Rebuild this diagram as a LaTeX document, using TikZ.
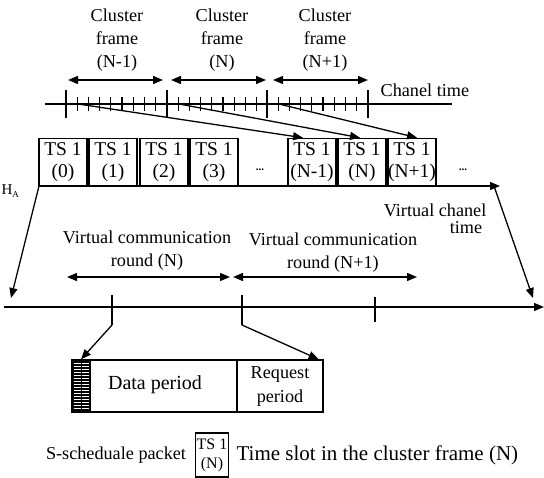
\documentclass[tikz,border=0pt]{standalone}
\usepackage{fontspec}
\setmainfont{Liberation Serif}
\usetikzlibrary{arrows.meta,calc}
\begin{document}
\begin{tikzpicture}[x=1pt,y=-1pt, line width=1.3pt,
  txt/.style={font=\fontsize{18.2}{23}\selectfont, align=center, inner sep=0pt},
  tsbox/.style={draw, line width=1.5pt, minimum width=48pt, minimum height=47pt, inner sep=0pt, font=\fontsize{19.5}{21.5}\selectfont, align=center},
  plainbox/.style={draw, line width=1.3pt, inner sep=0pt, font=\fontsize{18.2}{24}\selectfont, align=center},
  arr/.style={-{Triangle[length=10pt,width=8pt]}},
  darr/.style={{Triangle[length=10pt,width=8pt]}-{Triangle[length=10pt,width=8pt]}}]
\useasboundingbox (0,0) rectangle (544,478);

% cluster frame labels
\node[txt] (cf1) at (117,40) {Cluster\\frame\\(N-1)};
\node[txt] (cf2) at (222,40) {Cluster\\frame\\(N)};
\node[txt] (cf3) at (325,40) {Cluster\\frame\\(N+1)};
\coordinate (a1l) at (68,80); \coordinate (a1r) at (163,80);
\coordinate (a2l) at (171,80); \coordinate (a2r) at (266,80);
\coordinate (a3l) at (273,80); \coordinate (a3r) at (368,80);
\draw[darr] (a1l) -- (a1r);
\draw[darr] (a2l) -- (a2r);
\draw[darr] (a3l) -- (a3r);

% channel time line
\coordinate (c0) at (45,104); \coordinate (c1) at (452,104);
\draw (c0) -- (c1);
\node[txt, anchor=west] (chtime) at (380,90) {Chanel time};
\foreach \bx in {66,167,267,368} \draw (\bx,90) -- (\bx,118);
\foreach \bx in {66,167,267} \foreach \k in {1,...,8} \draw ({\bx+\k*11.2},97) -- ({\bx+\k*11.2},111);

% TS boxes
\node[tsbox] (ts0) at (63,162) {TS 1\\(0)};
\node[tsbox] (ts1) at (113,162) {TS 1\\(1)};
\node[tsbox] (ts2) at (164,162) {TS 1\\(2)};
\node[tsbox] (ts3) at (214,162) {TS 1\\(3)};
\node[font=\fontsize{11}{12}\selectfont\bfseries] (dots1) at (260,170) {...};
\node[tsbox] (tsNm1) at (312,162) {TS 1\\(N-1)};
\node[tsbox] (tsN) at (362,162) {TS 1\\(N)};
\node[tsbox] (tsNp1) at (412,162) {TS 1\\(N+1)};
\node[font=\fontsize{11}{12}\selectfont\bfseries] (dots2) at (463,170) {...};

% mapping arrows
\coordinate (m1) at (78,104); \coordinate (m2) at (179,104); \coordinate (m3) at (279,104);
\draw[arr] (m1) -- ($(tsNm1.north)+(-9,0)$);
\draw[arr] (m2) -- ($(tsN.north)+(-2,0)$);
\draw[arr] (m3) -- ($(tsNp1.north)+(5,0)$);

% virtual channel axis
\coordinate (ha0) at (39,186); \coordinate (ha1) at (500,186);
\draw[arr] (ha0) -- (ha1);
\node[inner sep=0pt, font=\fontsize{15}{16}\selectfont, anchor=west] (hal) at (1,191) {H\raisebox{-3pt}{\fontsize{9}{10}\selectfont A}};
\node[txt, anchor=east] (vct1) at (487,210) {Virtual chanel};
\node[txt] (vct2) at (466,228) {time};

% trapezoid arrows
\coordinate (tl) at (11,298); \coordinate (tr) at (533,298);
\coordinate (hr) at (494,186);
\draw[arr] (ha0) -- (tl);
\draw[arr] (hr) -- (tr);

% virtual communication rounds
\node[txt] (vcr1) at (147,251) {Virtual communication\\round (N)};
\node[txt] (vcr2) at (333,253) {Virtual communication\\round (N+1)};
\coordinate (r1l) at (67,277); \coordinate (r1r) at (230,277);
\coordinate (r2l) at (233,277); \coordinate (r2r) at (417,277);
\draw[darr] (r1l) -- (r1r);
\draw[darr] (r2l) -- (r2r);

% bottom axis
\coordinate (b0) at (4,307); \coordinate (b1) at (544,307);
\draw[arr] (b0) -- (b1);
\coordinate (t1a) at (112,295); \coordinate (t1b) at (112,325);
\coordinate (t2a) at (242,295); \coordinate (t2b) at (242,325);
\coordinate (t3a) at (375,297); \coordinate (t3b) at (375,322);
\draw (t1a) -- (t1b);
\draw (t2a) -- (t2b);
\draw (t3a) -- (t3b);

% round structure
\node[plainbox, fill=black, minimum width=18pt, minimum height=52pt] (sbox) at (81,386) {};
\foreach \yy in {363,366,...,409} \draw[white, line width=0.8pt] (73.5,\yy) -- (88.5,\yy);
\draw[black, line width=1pt] (81,361) -- (81,411);
\node[plainbox, minimum width=147pt, minimum height=52pt] (data) at (163.5,386) {};
\node[font=\fontsize{20}{24}\selectfont, inner sep=0pt] (datatxt) at (155,385) {Data period};
\node[plainbox, minimum width=86pt, minimum height=52pt] (req) at (280,386) {Request\\period};

\draw[arr] (t1b) -- (sbox.north);
\draw[arr] (t2b) -- ($(req.north east)+(-5,0)$);

% legend
\node[txt] (lg1) at (116,455) {S-scheduale packet};
\node[plainbox, line width=1.1pt, minimum width=33pt, minimum height=44pt, font=\fontsize{16}{19}\selectfont] (lgbox) at (212,455) {TS 1\\(N)};
\node[txt, anchor=west, font=\fontsize{21}{23}\selectfont] (lg2) at (236,455) {Time slot in the cluster frame (N)};
\end{tikzpicture}
\end{document}
